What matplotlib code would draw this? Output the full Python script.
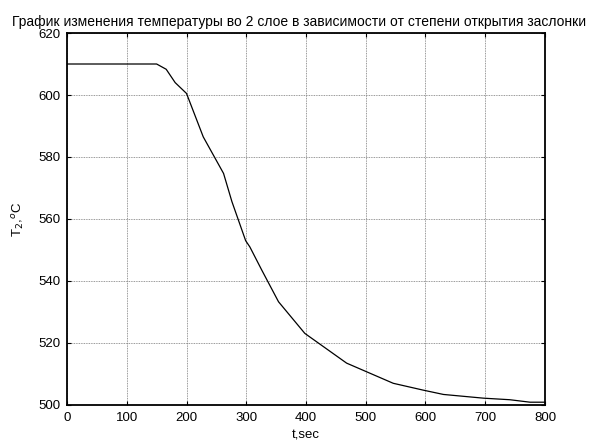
import matplotlib
matplotlib.use("Agg")
import matplotlib.pyplot as plt

plt.rcParams['font.family'] = ['Liberation Sans', 'DejaVu Sans']

t = [0, 150, 166, 181, 200, 228, 262, 276, 299, 306, 326, 354, 398, 468, 546, 596, 630, 697, 741, 775, 800]
T2 = [610, 610, 608.3, 604, 600.5, 586.5, 574.7, 565.6, 553, 551, 543.5, 533.3, 523.1, 513.5, 507, 504.8, 503.4, 502.2, 501.7, 500.9, 500.9]
xticks = [0, 100, 200, 300, 400, 500, 600, 700, 800]
yticks = [500, 520, 540, 560, 580, 600, 620]
title = "График изменения температуры во 2 слое в зависимости от степени открытия заслонки"

fig = plt.figure(figsize=(5.92, 4.43), dpi=100)
ax = fig.add_axes([0.1132, 0.0858, 0.8074, 0.8397])
ax.plot(t, T2, color='black', lw=0.9)
ax.set_xlim(0, 800)
ax.set_ylim(500, 620)
ax.set_xticks(xticks)
ax.set_yticks(yticks)
ax.grid(True, color='#777777', linestyle=(0, (1, 1)), linewidth=0.6)
ax.tick_params(direction='in', top=True, right=True, length=3, labelsize=9.5, pad=5)
for s in ax.spines.values():
    s.set_linewidth(1.3)
ax.set_title(title, fontsize=10, pad=5, x=0.486)
ax.set_xlabel("t,sec", fontsize=9.5, labelpad=4)
ax.set_ylabel("T$_2$,$^o$C", fontsize=9.5, labelpad=8)
fig.savefig("out.png", dpi=100)
